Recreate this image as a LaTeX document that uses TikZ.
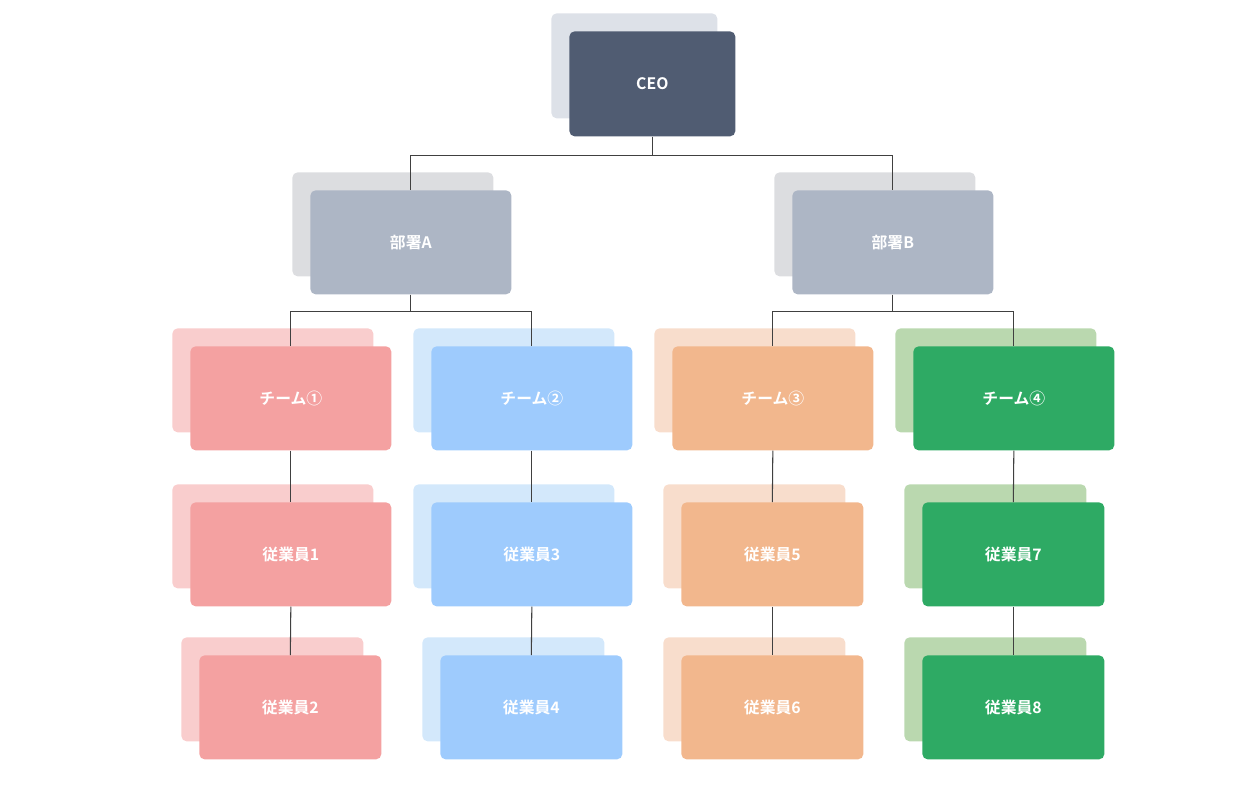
\documentclass[tikz,border=0pt]{standalone}
\usepackage{fontspec}
\newfontfamily\cjk{Noto Sans CJK JP}[BoldFont={Noto Sans CJK JP Bold}]
\usetikzlibrary{positioning,shadows}
\definecolor{ceoC}{HTML}{505C72}
\definecolor{ceoB}{HTML}{DDE1E8}
\definecolor{deptC}{HTML}{ADB6C5}
\definecolor{deptB}{HTML}{DCDDE0}
\definecolor{pinkC}{HTML}{F4A1A1}
\definecolor{pinkB}{HTML}{F9CDCD}
\definecolor{blueC}{HTML}{9ECBFD}
\definecolor{blueB}{HTML}{D3E8FB}
\definecolor{oranC}{HTML}{F2B78D}
\definecolor{oranB}{HTML}{F8DDCC}
\definecolor{grnC}{HTML}{2EAA64}
\definecolor{grnB}{HTML}{BAD8AF}
\tikzset{%
	box/.style   = {rectangle, rounded corners=3pt, text=white, font=\cjk\bfseries\fontsize{9}{10}\selectfont, anchor=north west},
	card/.style 2 args = {box, fill=#1, copy shadow={shadow xshift=-0.36cm, shadow yshift=0.36cm, fill=#2, draw=none}},
	wide/.style  = {minimum width=4.02cm, minimum height=2.08cm},
	slim/.style  = {minimum width=3.64cm, minimum height=2.08cm},
	ceo/.style   = {minimum width=3.32cm, minimum height=2.1cm},
	link/.style  = {draw=black!75, line width=0.6pt},
}
\begin{document}
\begin{tikzpicture}[x=0.02cm,y=-0.02cm]
	\useasboundingbox (0,0) rectangle (1260,787);
	\node[card={ceoC}{ceoB},ceo] (ceo) at (569,31) {CEO};
	\node[card={deptC}{deptB},wide] (depA) at (310,190) {部署A};
	\node[card={deptC}{deptB},wide] (depB) at (792,190) {部署B};
	
	\node[card={pinkC}{pinkB},wide] (t1) at (190,346) {チーム①};
	\node[card={blueC}{blueB},wide] (t2) at (431,346) {チーム②};
	\node[card={oranC}{oranB},wide] (t3) at (672,346) {チーム③};
	\node[card={grnC}{grnB},wide] (t4) at (913,346) {チーム④};
	
	\node[card={pinkC}{pinkB},wide] (e1) at (190,502) {従業員1};
	\node[card={blueC}{blueB},wide] (e3) at (431,502) {従業員3};
	\node[card={oranC}{oranB},slim] (e5) at (681,502) {従業員5};
	\node[card={grnC}{grnB},slim] (e7) at (922,502) {従業員7};
	
	\node[card={pinkC}{pinkB},slim] (e2) at (199,655) {従業員2};
	\node[card={blueC}{blueB},slim] (e4) at (440,655) {従業員4};
	\node[card={oranC}{oranB},slim] (e6) at (681,655) {従業員6};
	\node[card={grnC}{grnB},slim] (e8) at (922,655) {従業員8};
	
	\draw[link] (ceo.south) -- ++(0,19) -| (depA.north);
	\draw[link] (ceo.south) -- ++(0,19) -| (depB.north);
	\draw[link] (depA.south) -- ++(0,17) -| (t1.north);
	\draw[link] (depA.south) -- ++(0,17) -| (t2.north);
	\draw[link] (depB.south) -- ++(0,17) -| (t3.north);
	\draw[link] (depB.south) -- ++(0,17) -| (t4.north);
	\draw[link] (t1.south) -- (e1.north);
	\draw[link] (t2.south) -- (e3.north);
	\draw[link] (t3.south) -- (e5.north);
	\draw[link] (t4.south) -- (e7.north);
	\draw[link] (e1.south) -- (e2.north);
	\draw[link] (e3.south) -- (e4.north);
	\draw[link] (e5.south) -- (e6.north);
	\draw[link] (e7.south) -- (e8.north);
\end{tikzpicture}
\end{document}
